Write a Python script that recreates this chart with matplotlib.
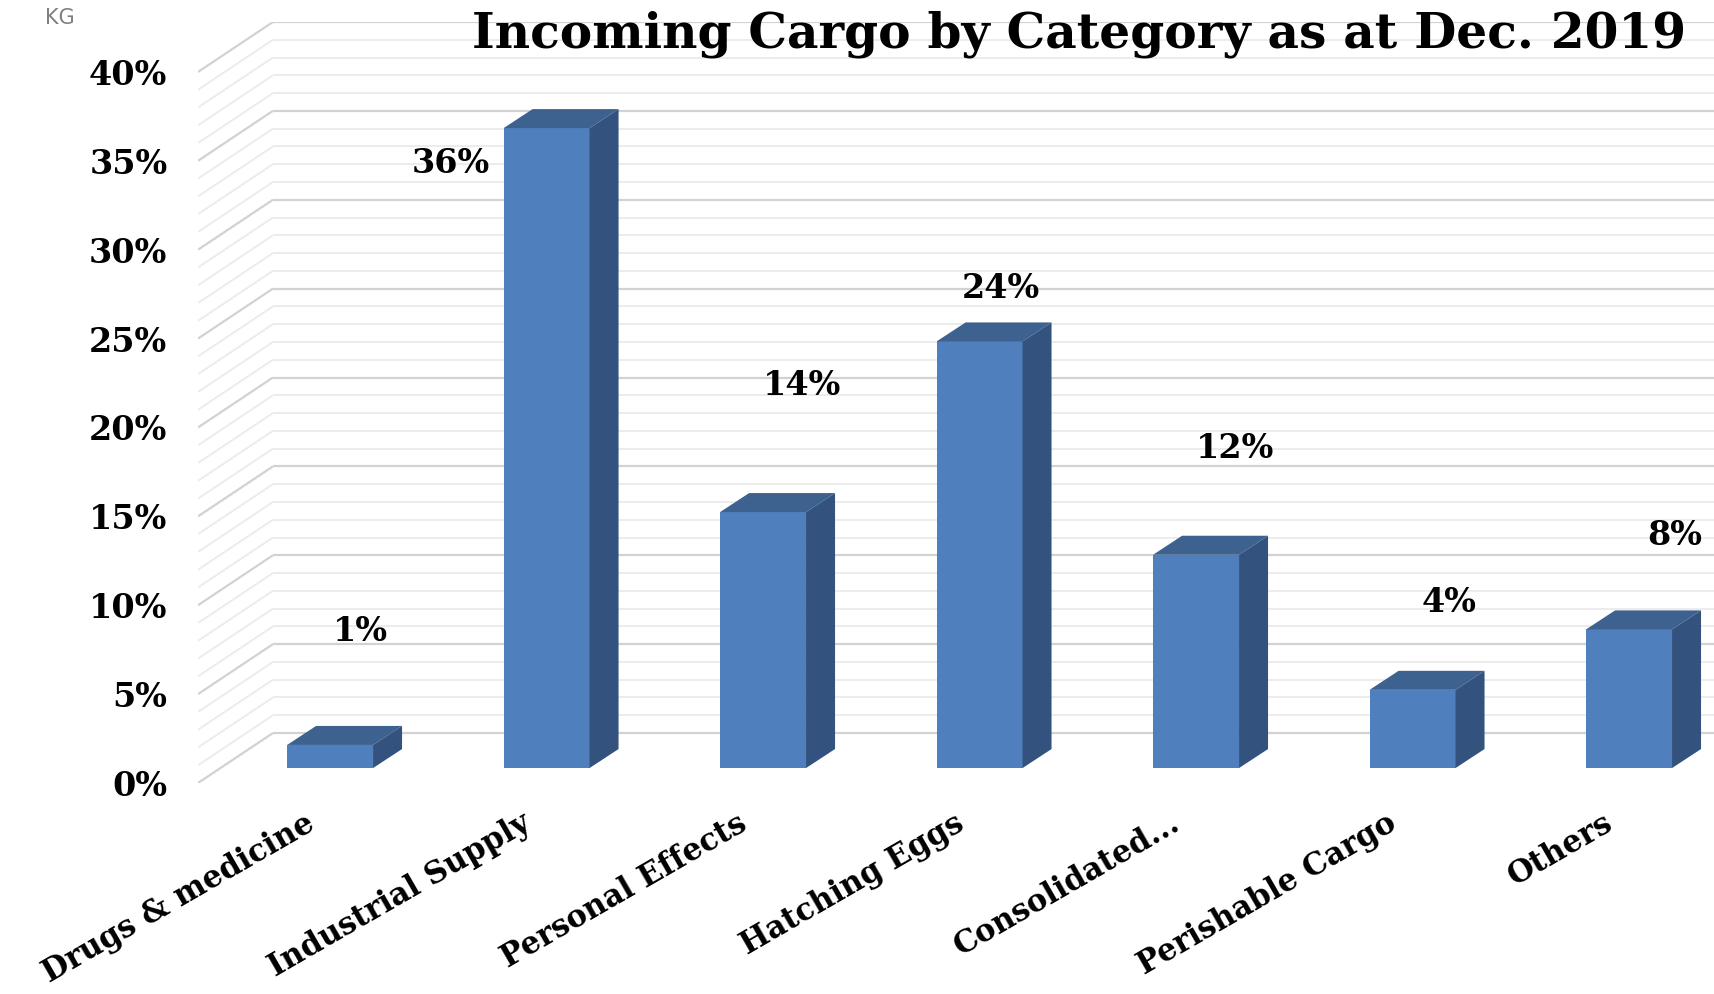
import numpy as np
import matplotlib
matplotlib.use("Agg")
import matplotlib.pyplot as plt
from matplotlib.patches import Polygon

# data
categories = ["Drugs & medicine", "Industrial Supply", "Personal Effects",
              "Hatching Eggs", "Consolidated...", "Perishable Cargo", "Others"]
values = [1.3, 36.0, 14.4, 24.0, 12.0, 4.4, 7.8]   # percent
yticks = [0, 5, 10, 15, 20, 25, 30, 35, 40]

# label offsets from bar top (data units), Excel 3D labels sit oddly
lbl_dx = [0.14, -0.44, 0.18, 0.10, 0.18, 0.17, 0.21]
lbl_dy = [6.4, -2.0, 7.1, 3.0, 6.0, 4.9, 5.3]

# fake-3D geometry (data units)
DX, DY = 0.346, 2.81      # depth of the floor / side wall
BW = 0.397                # bar width
BDX, BDY = 0.134, 1.07    # bar depth
B0 = 0.84                 # bar base (bars sit behind the front plane)

front = "#4f80bd"
top = "#3d6290"
side = "#33537e"

fig = plt.figure(figsize=(17.15, 9.94), dpi=100)
ax = fig.add_axes([198 / 1715, 211 / 994, 1517 / 1715, 761 / 994])
xlim = (-0.61, 6.397)
ax.set_xlim(*xlim)
ax.set_ylim(0, 40 + DY)
for s in ax.spines.values():
    s.set_visible(False)

# side wall diagonals + back wall lines, 1% minor, 5% major
for v in range(0, 41):
    major = v % 5 == 0
    col = "#d2d2d2" if major else "#ececec"
    lw = 1.6 if major else 1.4
    ax.plot([xlim[0], xlim[0] + DX], [v, v + DY], color=col, lw=lw, zorder=1,
            solid_capstyle="butt")
    ax.plot([xlim[0] + DX, xlim[1]], [v + DY, v + DY], color=col, lw=lw, zorder=1,
            solid_capstyle="butt")

x = np.arange(len(categories))
ax.bar(x, values, width=BW, bottom=B0, color=front, zorder=3, linewidth=0)
for i, v in enumerate(values):
    l, r, t = i - BW / 2, i + BW / 2, B0 + v
    ax.add_patch(Polygon([(l, t), (r, t), (r + BDX, t + BDY), (l + BDX, t + BDY)],
                         closed=True, facecolor=top, edgecolor="none", zorder=3))
    ax.add_patch(Polygon([(r, B0), (r + BDX, B0 + BDY), (r + BDX, t + BDY), (r, t)],
                         closed=True, facecolor=side, edgecolor="none", zorder=3))
    ax.text(i + lbl_dx[i], t + lbl_dy[i], f"{round(v)}%", ha="center", va="center",
            fontsize=24, fontweight="bold", family="DejaVu Serif", zorder=5)

ax.set_yticks(yticks)
ax.set_yticklabels([f"{t}%" for t in yticks], fontsize=24, fontweight="bold",
                   family="DejaVu Serif")
ax.tick_params(axis="y", length=0, pad=22)
ax.set_xticks([])

for i, c in enumerate(categories):
    ax.text(i - 0.12, -1.4, c, rotation=30, rotation_mode="anchor", ha="right",
            va="top", fontsize=22, fontweight="bold", family="DejaVu Serif")

fig.text(1079 / 1715, 1 - 34 / 994, "Incoming Cargo by Category as at Dec. 2019",
         ha="center", va="center", fontsize=35, fontweight="bold",
         family="DejaVu Serif")
fig.text(60 / 1715, 1 - 18 / 994, "KG", ha="center", va="center", fontsize=15,
         color="#808080", family="DejaVu Sans")

fig.savefig("out.png", dpi=100)
